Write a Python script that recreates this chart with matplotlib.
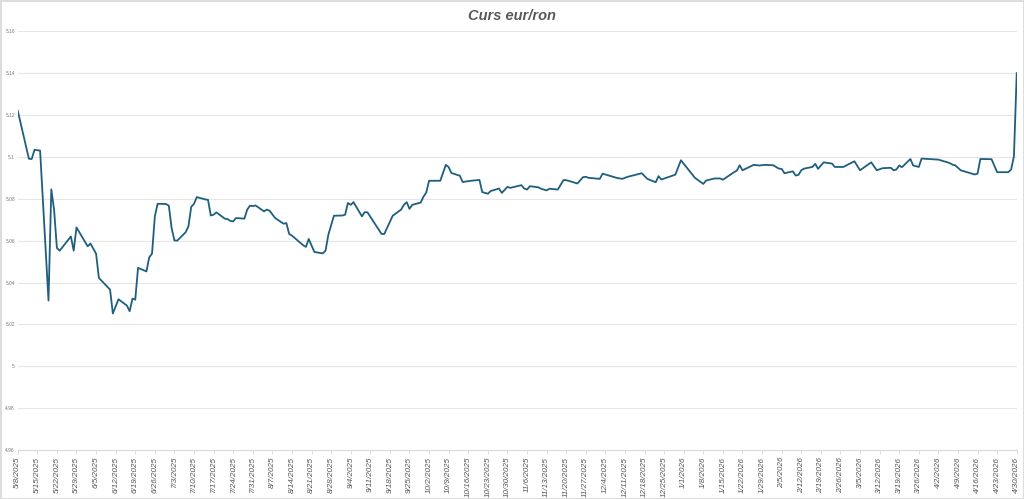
import pandas as pd
import matplotlib as mpl
import matplotlib.pyplot as plt
import matplotlib.ticker as mticker
import matplotlib.dates as mdates

mpl.rcParams['font.family'] = ['Liberation Sans', 'DejaVu Sans']

# 日期与汇率
dates = [
    '2025-05-08', '2025-05-12', '2025-05-13', '2025-05-14', '2025-05-16', '2025-05-19', '2025-05-20',
    '2025-05-21', '2025-05-22', '2025-05-23', '2025-05-27', '2025-05-28', '2025-05-29', '2025-06-02',
    '2025-06-03', '2025-06-05', '2025-06-06', '2025-06-10', '2025-06-11', '2025-06-13', '2025-06-16',
    '2025-06-17', '2025-06-18', '2025-06-19', '2025-06-20', '2025-06-23', '2025-06-24', '2025-06-25',
    '2025-06-26', '2025-06-27', '2025-06-30', '2025-07-01', '2025-07-02', '2025-07-03', '2025-07-04',
    '2025-07-07', '2025-07-08', '2025-07-09', '2025-07-10', '2025-07-11', '2025-07-14', '2025-07-15',
    '2025-07-16', '2025-07-17', '2025-07-18', '2025-07-21', '2025-07-22', '2025-07-23', '2025-07-24',
    '2025-07-25', '2025-07-28', '2025-07-29', '2025-07-30', '2025-07-31', '2025-08-01', '2025-08-04',
    '2025-08-05', '2025-08-06', '2025-08-08', '2025-08-11', '2025-08-12', '2025-08-13', '2025-08-14',
    '2025-08-18', '2025-08-19', '2025-08-20', '2025-08-22', '2025-08-25', '2025-08-26', '2025-08-27',
    '2025-08-29', '2025-09-01', '2025-09-02', '2025-09-03', '2025-09-04', '2025-09-05', '2025-09-08',
    '2025-09-09', '2025-09-10', '2025-09-15', '2025-09-16', '2025-09-19', '2025-09-22', '2025-09-23',
    '2025-09-24', '2025-09-25', '2025-09-26', '2025-09-29', '2025-09-30', '2025-10-01', '2025-10-02',
    '2025-10-06', '2025-10-08', '2025-10-09', '2025-10-10', '2025-10-13', '2025-10-14', '2025-10-17',
    '2025-10-20', '2025-10-21', '2025-10-23', '2025-10-24', '2025-10-27', '2025-10-28', '2025-10-30',
    '2025-10-31', '2025-11-04', '2025-11-05', '2025-11-06', '2025-11-07', '2025-11-10', '2025-11-11',
    '2025-11-12', '2025-11-13', '2025-11-14', '2025-11-17', '2025-11-19', '2025-11-20', '2025-11-24',
    '2025-11-26', '2025-11-27', '2025-11-28', '2025-12-02', '2025-12-03', '2025-12-08', '2025-12-10',
    '2025-12-12', '2025-12-17', '2025-12-19', '2025-12-22', '2025-12-23', '2025-12-24', '2025-12-29',
    '2025-12-31', '2026-01-05', '2026-01-08', '2026-01-09', '2026-01-12', '2026-01-14', '2026-01-15',
    '2026-01-19', '2026-01-20', '2026-01-21', '2026-01-22', '2026-01-26', '2026-01-28', '2026-01-30',
    '2026-02-02', '2026-02-04', '2026-02-05', '2026-02-06', '2026-02-09', '2026-02-10', '2026-02-11',
    '2026-02-12', '2026-02-13', '2026-02-16', '2026-02-17', '2026-02-18', '2026-02-20', '2026-02-23',
    '2026-02-24', '2026-02-27', '2026-03-03', '2026-03-05', '2026-03-09', '2026-03-11', '2026-03-13',
    '2026-03-16', '2026-03-17', '2026-03-18', '2026-03-19', '2026-03-20', '2026-03-23', '2026-03-24',
    '2026-03-26', '2026-03-27', '2026-04-02', '2026-04-06', '2026-04-07', '2026-04-08', '2026-04-10',
    '2026-04-15', '2026-04-16', '2026-04-17', '2026-04-21', '2026-04-23', '2026-04-24', '2026-04-27',
    '2026-04-28', '2026-04-29', '2026-04-30',
]
curs = [
    5.1221, 5.0991, 5.0990, 5.1034, 5.1030, 5.0314, 5.0845,
    5.0747, 5.0565, 5.0552, 5.0620, 5.0552, 5.0663, 5.0573,
    5.0586, 5.0538, 5.0422, 5.0366, 5.0252, 5.0320, 5.0290,
    5.0263, 5.0323, 5.0318, 5.0470, 5.0453, 5.0520, 5.0538,
    5.0716, 5.0776, 5.0775, 5.0767, 5.0660, 5.0601, 5.0600,
    5.0640, 5.0668, 5.0761, 5.0776, 5.0808, 5.0797, 5.0795,
    5.0720, 5.0724, 5.0735, 5.0705, 5.0703, 5.0694, 5.0692,
    5.0708, 5.0705, 5.0748, 5.0767, 5.0765, 5.0768, 5.0740,
    5.0748, 5.0743, 5.0708, 5.0681, 5.0684, 5.0632, 5.0624,
    5.0578, 5.0570, 5.0608, 5.0546, 5.0539, 5.0552, 5.0628,
    5.0719, 5.0720, 5.0724, 5.0780, 5.0771, 5.0784, 5.0716,
    5.0736, 5.0735, 5.0632, 5.0632, 5.0719, 5.0748, 5.0771,
    5.0784, 5.0752, 5.0771, 5.0782, 5.0810, 5.0830, 5.0886,
    5.0886, 5.0962, 5.0951, 5.0923, 5.0910, 5.0880, 5.0886,
    5.0890, 5.0832, 5.0824, 5.0837, 5.0849, 5.0828, 5.0857,
    5.0852, 5.0865, 5.0849, 5.0844, 5.0860, 5.0855, 5.0848,
    5.0844, 5.0840, 5.0848, 5.0844, 5.0889, 5.0889, 5.0873,
    5.0903, 5.0905, 5.0900, 5.0895, 5.0920, 5.0900, 5.0895,
    5.0905, 5.0922, 5.0895, 5.0879, 5.0908, 5.0892, 5.0915,
    5.0984, 5.0900, 5.0871, 5.0887, 5.0897, 5.0897, 5.0891,
    5.0927, 5.0935, 5.0960, 5.0936, 5.0962, 5.0959, 5.0962,
    5.0960, 5.0944, 5.0943, 5.0922, 5.0931, 5.0911, 5.0914,
    5.0936, 5.0944, 5.0952, 5.0967, 5.0943, 5.0974, 5.0968,
    5.0952, 5.0952, 5.0979, 5.0936, 5.0974, 5.0936, 5.0946,
    5.0948, 5.0936, 5.0940, 5.0959, 5.0951, 5.0990, 5.0959,
    5.0952, 5.0992, 5.0987, 5.0971, 5.0963, 5.0960, 5.0936,
    5.0916, 5.0920, 5.0990, 5.0989, 5.0927, 5.0927, 5.0927,
    5.0940, 5.1003, 5.1400,
]
y_ticks = [4.96, 4.98, 5.0, 5.02, 5.04, 5.06, 5.08, 5.1, 5.12, 5.14, 5.16]

df = pd.DataFrame({'data': pd.to_datetime(dates), 'curs': curs})

fig = plt.figure(figsize=(10.24, 4.99), dpi=100)
fig.patch.set_edgecolor('#dddddd')
fig.patch.set_linewidth(2)
ax = fig.add_axes([0.0173, 0.0982, 0.9756, 0.8391])

ax.plot(df['data'], df['curs'], color='#1f5f7e', lw=1.3)

# 轴范围与刻度
start = pd.Timestamp('2025-05-08')
end = pd.Timestamp('2026-04-30')
ax.set_xlim(start, end)
ax.set_ylim(4.96, 5.16)

tick_days = pd.date_range(start, end, freq='7D')
ax.xaxis.set_major_locator(mticker.FixedLocator(mdates.date2num(tick_days)))
ax.set_xticklabels([f'{d.month}/{d.day}/{d.year}' for d in tick_days],
                   rotation=90, fontsize=5.8, color='#555555', style='italic')

ax.set_yticks(y_ticks)
ax.set_yticklabels([f'{v:g}' for v in y_ticks], fontsize=3.5, color='#777777')

ax.grid(axis='y', color='#e6e6e6', lw=0.8)
ax.set_axisbelow(True)
for s in ['top', 'right', 'left']:
    ax.spines[s].set_visible(False)
ax.spines['bottom'].set_color('#d9d9d9')
ax.tick_params(axis='x', length=3, width=0.6, color='#d9d9d9', pad=2)
ax.tick_params(axis='y', length=0, pad=2)

fig.text(0.5, 0.968, 'Curs eur/ron', ha='center', va='center',
         fontsize=10.5, fontweight='bold', style='italic', color='#5a5a5a')

fig.savefig('out.png', dpi=100)
